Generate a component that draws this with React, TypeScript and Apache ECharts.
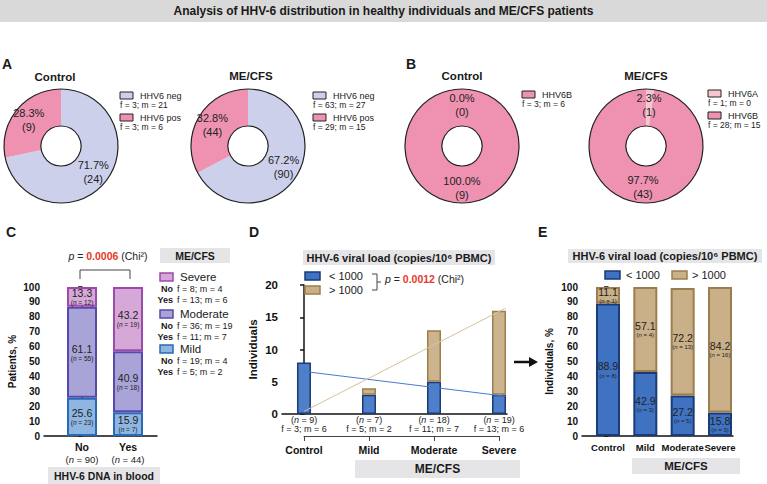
import React, { useEffect, useRef } from "react";
import * as echarts from "echarts";

const FONT = "'Liberation Sans', Arial, Helvetica, sans-serif";

// ---------- Panel A ----------
const aNames = ["HHV6 neg", "HHV6 pos"];
const aControlPct = [71.7, 28.3];
const aControlN = [24, 9];
const aControlSex = ["f = 3; m = 21", "f = 3; m = 6"];
const aMecfsPct = [67.2, 32.8];
const aMecfsN = [90, 44];
const aMecfsSex = ["f = 63; m = 27", "f = 29; m = 15"];

// ---------- Panel B ----------
const bNames = ["HHV6A", "HHV6B"];
const bControlPct = [0.0, 100.0];
const bControlN = [0, 9];
const bControlSex = ["f = 3; m = 6"];
const bMecfsPct = [2.3, 97.7];
const bMecfsN = [1, 43];
const bMecfsSex = ["f = 1; m = 0", "f = 28; m = 15"];

// ---------- Panel C ----------
const cCategories = ["No", "Yes"];
const cCategoryN = [90, 44];
const cMild = [25.6, 15.9];
const cMildN = [23, 7];
const cModerate = [61.1, 40.9];
const cModerateN = [55, 18];
const cSevere = [13.3, 43.2];
const cSevereN = [12, 19];
const cLegendNames = ["Severe", "Moderate", "Mild"];
const cSexNo = ["f = 8; m = 4", "f = 36; m = 19", "f = 19; m = 4"];
const cSexYes = ["f = 13; m = 6", "f = 11; m = 7", "f = 5; m = 2"];
const cP = "0.0006";

// ---------- Panel D ----------
const dCategories = ["Control", "Mild", "Moderate", "Severe"];
const dN = [9, 7, 18, 19];
const dSex = ["f = 3; m = 6", "f = 5; m = 2", "f = 11; m = 7", "f = 13; m = 6"];
const dLow = [8, 3, 5, 3];
const dHigh = [0, 1, 8, 13];
const dTrendX = [0, 3.1];
const dTrendLow = [6.6, 2.75];
const dTrendHigh = [0.4, 16.4];
const dP = "0.0012";

// ---------- Panel E ----------
const eCategories = ["Control", "Mild", "Moderate", "Severe"];
const eLowPct = [88.9, 42.9, 27.2, 15.8];
const eLowN = [8, 3, 5, 3];
const eHighPct = [11.1, 57.1, 72.2, 84.2];
const eHighN = [1, 4, 13, 16];

// colours
const NEG = "#cdd0eb";
const POS = "#ef92b2";
const HA = "#f5c6cf";
const MILD = ["#8fb6e3", "#2a6ab3"];
const MOD = ["#a8a4d7", "#5748ad"];
const SEV = ["#d5a8d8", "#9e4aab"];
const BLUE = ["#3f72c0", "#1b3a78"];
const TAN = ["#c9b088", "#9c7d4e"];
const BOX = "#e5e5e8";

function txt(x: number, y: number, text: string, o: any = {}) {
  return {
    type: "text",
    x,
    y,
    silent: true,
    z: 10,
    style: {
      text,
      fontFamily: FONT,
      fontSize: o.size ?? 12,
      fontWeight: o.bold ? "bold" : "normal",
      fontStyle: o.italic ? "italic" : "normal",
      fill: o.color ?? "#1a1a1a",
      align: o.align ?? "left",
      textAlign: o.align ?? "left",
      verticalAlign: "middle",
      textVerticalAlign: "middle",
      rich: o.rich,
    },
  };
}
function rect(x: number, y: number, w: number, h: number, fill: string, stroke?: string, lw = 1) {
  return {
    type: "rect",
    silent: true,
    z: 9,
    shape: { x, y, width: w, height: h },
    style: { fill, stroke: stroke ?? null, lineWidth: stroke ? lw : 0 },
  };
}
function legendBlock(x: number, y0: number, names: string[], sex: string[], colors: string[]) {
  const out: any[] = [];
  names.forEach((n, i) => {
    const y = y0 + i * 22;
    out.push(rect(x, y, 13, 7, colors[i], "#222", 1));
    out.push(txt(x + 20, y + 3.5, n, { size: 9 }));
    out.push(txt(x, y + 13, sex[i], { size: 8.5 }));
  });
  return out;
}

function donut(center: number[], pcts: number[], ns: number[], names: string[], colors: string[]) {
  return [
    {
      type: "pie",
      center,
      radius: [20, 57],
      startAngle: 90,
      clockwise: true,
      silent: true,
      avoidLabelOverlap: false,
      label: {
        show: true,
        position: "inside",
        fontFamily: FONT,
        fontSize: 11,
        lineHeight: 14,
        color: "#222",
        formatter: (p: any) => `${pcts[p.dataIndex].toFixed(1)}%\n(${ns[p.dataIndex]})`,
      },
      labelLine: { show: false },
      data: pcts.map((v, i) => ({ value: v, name: names[i], itemStyle: { color: colors[i], borderWidth: 0 } })),
    },
    {
      type: "pie",
      center,
      radius: [20, 57],
      silent: true,
      z: 3,
      label: { show: false },
      labelLine: { show: false },
      data: [{ value: 1, itemStyle: { color: "rgba(0,0,0,0)", borderColor: "#222", borderWidth: 1.2 } }],
    },
  ];
}

const nRich = (vs: number, ns: number) => ({
  v: { fontFamily: FONT, fontSize: vs, color: "#222", lineHeight: vs + 1 },
  s: { fontFamily: FONT, fontSize: ns, color: "#222", lineHeight: ns + 1 },
  i: { fontFamily: FONT, fontSize: ns, color: "#222", fontStyle: "italic", lineHeight: ns + 1 },
});
function barLabel(vals: number[], ns: number[], vs = 10.5, nsz = 6.5) {
  return {
    show: true,
    position: "inside",
    formatter: (p: any) => `{v|${vals[p.dataIndex].toFixed(1)}}\n{s|(}{i|n}{s| = ${ns[p.dataIndex]})}`,
    rich: nRich(vs, nsz),
  };
}
// bar data as [value, position] so that the stacked dimension is the value axis;
// zero-height segments are left empty so they draw no border line
const pair = (pos: number[], vals: number[]) => pos.map((x, i) => [vals[i] === 0 ? null : vals[i], x]);

const axisLineStyle = { color: "#111", width: 1.5 };
const yAxisCommon = (gridIndex: number, max: number, interval: number, name: string, nameGap: number, size: number, nameSize: number) => ({
  type: "value",
  gridIndex,
  min: 0,
  max,
  interval,
  name,
  nameLocation: "middle",
  nameGap,
  nameTextStyle: { fontFamily: FONT, fontWeight: "bold", fontSize: nameSize, color: "#111" },
  axisLine: { show: true, lineStyle: axisLineStyle },
  axisTick: { show: true, length: 4, lineStyle: axisLineStyle },
  axisLabel: { fontFamily: FONT, fontWeight: "bold", fontSize: size, color: "#111", margin: 4 },
  splitLine: { show: false },
});

export default function App() {
  const ref = useRef<HTMLDivElement>(null);
  useEffect(() => {
    if (!ref.current) return;
    const chart = echarts.init(ref.current, null, { renderer: "svg" });

    const pRich = {
      i: { fontFamily: FONT, fontSize: 10.5, fontStyle: "italic", fill: "#222" },
      a: { fontFamily: FONT, fontSize: 10.5, fill: "#222" },
      r: { fontFamily: FONT, fontSize: 10.5, fontWeight: "bold", fill: "#e8392a" },
    };

    const graphic: any[] = [
      rect(0, 0, 767, 22, "#d9d9d9"),
      txt(383.5, 11, "Analysis of HHV-6 distribution in healthy individuals and ME/CFS patients", { bold: true, size: 12, align: "center" }),
      txt(2, 64, "A", { bold: true, size: 14 }),
      txt(406, 64, "B", { bold: true, size: 14 }),
      txt(6, 232, "C", { bold: true, size: 14 }),
      txt(249, 232, "D", { bold: true, size: 14 }),
      txt(538, 232, "E", { bold: true, size: 14 }),
      txt(55, 77, "Control", { bold: true, size: 11.5, align: "center" }),
      txt(251, 76, "ME/CFS", { bold: true, size: 11.5, align: "center" }),
      txt(462, 76, "Control", { bold: true, size: 11.5, align: "center" }),
      txt(646, 76, "ME/CFS", { bold: true, size: 11.5, align: "center" }),
      ...legendBlock(120, 92, aNames, aControlSex, [NEG, POS]),
      ...legendBlock(313, 92, aNames, aMecfsSex, [NEG, POS]),
      ...legendBlock(522, 91, [bNames[1]], bControlSex, [POS]),
      ...legendBlock(708, 90, bNames, bMecfsSex, [HA, POS]),
      // Panel C decorations
      { type: "polyline", silent: true, shape: { points: [[80, 279], [80, 270], [130, 270], [130, 279]] }, style: { stroke: "#444", lineWidth: 1, fill: null } },
      txt(108, 256, `{i|p}{a| = }{r|${cP}}{a| (Chi²)}`, { align: "center", rich: pRich }),
      rect(160, 248, 70, 15, BOX),
      txt(195, 255.5, "ME/CFS", { bold: true, size: 10.5, align: "center" }),
      rect(48, 467, 112, 17, BOX),
      txt(104, 476, "HHV-6 DNA in blood", { bold: true, size: 10.5, align: "center" }),
    ];
    const cLegColors = [SEV, MOD, MILD];
    const cLegY = [277, 314, 349];
    cLegendNames.forEach((n, i) => {
      const y = cLegY[i];
      graphic.push(rect(160, y - 4, 13, 8, cLegColors[i][0], cLegColors[i][1], 1.5));
      graphic.push(txt(180, y, n, { size: 11.5 }));
      graphic.push(txt(173, y + 12, "No", { size: 9, bold: true, align: "right" }));
      graphic.push(txt(177, y + 12, cSexNo[i], { size: 9 }));
      graphic.push(txt(173, y + 23, "Yes", { size: 9, bold: true, align: "right" }));
      graphic.push(txt(177, y + 23, cSexYes[i], { size: 9 }));
    });
    // Panel D decorations
    graphic.push(
      rect(303, 250, 192, 15, BOX),
      txt(399, 257.5, "HHV-6 viral load (copies/10⁶ PBMC)", { bold: true, size: 11, align: "center" }),
      rect(305, 272, 15, 8, BLUE[0], BLUE[1], 1.5),
      txt(329, 276, "< 1000", { size: 11 }),
      rect(305, 286, 15, 8, TAN[0], TAN[1], 1.5),
      txt(329, 290, "> 1000", { size: 11 }),
      { type: "polyline", silent: true, shape: { points: [[372, 274], [377, 274], [377, 290], [372, 290]] }, style: { stroke: "#444", lineWidth: 1, fill: null } },
      { type: "line", silent: true, shape: { x1: 377, y1: 282, x2: 381, y2: 282 }, style: { stroke: "#444", lineWidth: 1 } },
      txt(385, 279, `{i|p}{a| = }{r|${dP}}{a| (Chi²)}`, { rich: pRich }),
      rect(355, 460, 165, 18, BOX),
      txt(437.5, 469, "ME/CFS", { bold: true, size: 12, align: "center" }),
      { type: "line", silent: true, shape: { x1: 514, y1: 362, x2: 531, y2: 362 }, style: { stroke: "#111", lineWidth: 2.5 } },
      { type: "polygon", silent: true, shape: { points: [[529, 357], [538, 362], [529, 367]] }, style: { fill: "#111" } },
      // Panel E decorations
      rect(568, 249, 194, 14, BOX),
      txt(665, 256, "HHV-6 viral load (copies/10⁶ PBMC)", { bold: true, size: 11, align: "center" }),
      rect(605, 271, 15, 8, BLUE[0], BLUE[1], 1.5),
      txt(626, 275, "< 1000", { size: 11 }),
      rect(672, 271, 15, 8, TAN[0], TAN[1], 1.5),
      txt(692, 275, "> 1000", { size: 11 }),
      rect(632, 458, 108, 16, BOX),
      txt(686, 466, "ME/CFS", { bold: true, size: 11.5, align: "center" })
    );

    const cX = [0, 1];
    const dX = [0, 1, 2, 3];
    const eX = [0, 1, 2, 3];
    const enc = { x: 1, y: 0 };

    const option: any = {
      animation: false,
      textStyle: { fontFamily: FONT },
      graphic,
      grid: [
        { left: 44, width: 113, top: 287, height: 149 },
        { left: 282, width: 225, top: 285, height: 129 },
        { left: 304, width: 195, top: 414, height: 22 },
        { left: 582, width: 151, top: 287, height: 149 },
      ],
      xAxis: [
        {
          type: "value",
          gridIndex: 0,
          min: -0.826,
          max: 1.63,
          axisLine: { show: true, lineStyle: axisLineStyle },
          axisTick: { show: false },
          splitLine: { show: false },
          axisLabel: {
            customValues: cX,
            margin: 5,
            hideOverlap: false,
            formatter: (v: number) => {
              const i = Math.round(v);
              return `{b|${cCategories[i]}}\n{s|(}{i|n}{s| = ${cCategoryN[i]})}`;
            },
            rich: {
              b: { fontFamily: FONT, fontWeight: "bold", fontSize: 10.5, color: "#111", lineHeight: 12 },
              s: { fontFamily: FONT, fontSize: 9.5, color: "#222", lineHeight: 12 },
              i: { fontFamily: FONT, fontSize: 9.5, color: "#222", fontStyle: "italic", lineHeight: 12 },
            },
          },
        },
        {
          type: "value",
          gridIndex: 1,
          min: -0.338,
          max: 3.123,
          axisLine: { show: true, lineStyle: axisLineStyle },
          axisTick: { show: false },
          axisLabel: { show: false },
          splitLine: { show: false },
        },
        {
          type: "category",
          gridIndex: 2,
          position: "bottom",
          boundaryGap: false,
          data: dCategories,
          axisLine: { show: true, lineStyle: { color: "#444", width: 1 } },
          axisTick: { show: true, length: 5, inside: false, interval: 0, lineStyle: { color: "#444", width: 1 } },
          axisLabel: { interval: 0, fontFamily: FONT, fontWeight: "bold", fontSize: 10.5, color: "#111", margin: 8 },
        },
        {
          type: "category",
          gridIndex: 2,
          position: "top",
          boundaryGap: false,
          data: dCategories,
          axisLine: { show: false },
          axisTick: { show: false },
          axisLabel: {
            interval: 0,
            inside: true,
            margin: 1,
            formatter: (_v: string, idx: number) => `{s|(}{i|n}{s| = ${dN[idx]})}\n{s|${dSex[idx]}}`,
            rich: {
              s: { fontFamily: FONT, fontSize: 9, color: "#222", lineHeight: 9.5 },
              i: { fontFamily: FONT, fontSize: 9, color: "#222", fontStyle: "italic", lineHeight: 9.5 },
            },
          },
        },
        {
          type: "value",
          gridIndex: 3,
          min: -0.696,
          max: 3.348,
          axisLine: { show: true, lineStyle: axisLineStyle },
          axisTick: { show: false },
          splitLine: { show: false },
          axisLabel: {
            customValues: eX,
            margin: 6,
            hideOverlap: false,
            fontFamily: FONT,
            fontWeight: "bold",
            fontSize: 9.5,
            color: "#111",
            formatter: (v: number) => eCategories[Math.round(v)],
          },
        },
      ],
      yAxis: [
        yAxisCommon(0, 100, 10, "Patients, %", 27, 10, 10),
        yAxisCommon(1, 20, 5, "Individuals", 23, 11.5, 11.5),
        { type: "value", gridIndex: 2, show: false },
        yAxisCommon(3, 100, 10, "Individuals, %", 28, 10, 10),
      ],
      series: [
        ...donut([61, 146], aControlPct, aControlN, aNames, [NEG, POS]),
        ...donut([248, 146], aMecfsPct, aMecfsN, aNames, [NEG, POS]),
        ...donut([462, 146], bControlPct, bControlN, bNames, [HA, POS]),
        ...donut([646, 146], bMecfsPct, bMecfsN, bNames, [HA, POS]),
        // Panel C
        {
          type: "bar", xAxisIndex: 0, yAxisIndex: 0, stack: "c", barWidth: 30, encode: enc,
          data: pair(cX, cMild),
          itemStyle: { color: MILD[0], borderColor: MILD[1], borderWidth: 2 },
          label: barLabel(cMild, cMildN),
        },
        {
          type: "bar", xAxisIndex: 0, yAxisIndex: 0, stack: "c", barWidth: 30, encode: enc,
          data: pair(cX, cModerate),
          itemStyle: { color: MOD[0], borderColor: MOD[1], borderWidth: 2 },
          label: barLabel(cModerate, cModerateN),
        },
        {
          type: "bar", xAxisIndex: 0, yAxisIndex: 0, stack: "c", barWidth: 30, encode: enc,
          data: pair(cX, cSevere),
          itemStyle: { color: SEV[0], borderColor: SEV[1], borderWidth: 2 },
          label: barLabel(cSevere, cSevereN),
        },
        // Panel D
        {
          type: "bar", xAxisIndex: 1, yAxisIndex: 1, stack: "d", barWidth: 14, encode: enc,
          data: pair(dX, dLow),
          itemStyle: { color: "#4f7fc8", borderColor: BLUE[1], borderWidth: 1.5 },
        },
        {
          type: "bar", xAxisIndex: 1, yAxisIndex: 1, stack: "d", barWidth: 14, encode: enc,
          data: pair(dX, dHigh),
          itemStyle: { color: "#ccb48e", borderColor: TAN[1], borderWidth: 1.5 },
        },
        {
          type: "line", xAxisIndex: 1, yAxisIndex: 1, symbol: "none", z: 5,
          data: dTrendX.map((x, i) => [x, dTrendLow[i]]),
          lineStyle: { color: "#4a7ad0", width: 1 },
        },
        {
          type: "line", xAxisIndex: 1, yAxisIndex: 1, symbol: "none", z: 5,
          data: dTrendX.map((x, i) => [x, dTrendHigh[i]]),
          lineStyle: { color: "#d9c29c", width: 1 },
        },
        // Panel E
        {
          type: "bar", xAxisIndex: 4, yAxisIndex: 3, stack: "e", barWidth: 24, encode: enc,
          data: pair(eX, eLowPct),
          itemStyle: { color: BLUE[0], borderColor: BLUE[1], borderWidth: 2 },
          label: barLabel(eLowPct, eLowN, 10.5, 6),
        },
        {
          type: "bar", xAxisIndex: 4, yAxisIndex: 3, stack: "e", barWidth: 24, encode: enc,
          data: pair(eX, eHighPct),
          itemStyle: { color: TAN[0], borderColor: TAN[1], borderWidth: 2 },
          label: barLabel(eHighPct, eHighN, 10.5, 6),
        },
      ],
    };
    chart.setOption(option);
    return () => chart.dispose();
  }, []);
  return (
    <div
      ref={ref}
      style={{ position: "absolute", left: 0, top: 0, width: 767, height: 484, background: "#fff" }}
    />
  );
}
